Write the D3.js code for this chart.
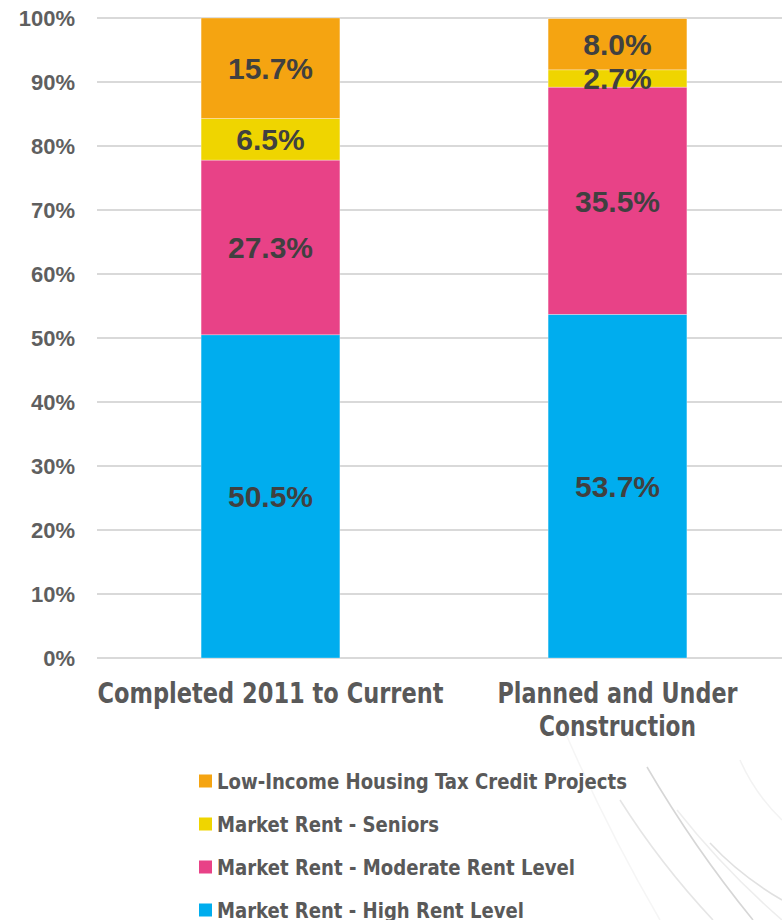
<!DOCTYPE html>
<html>
<head>
<meta charset="utf-8">
<script src="https://cdn.jsdelivr.net/npm/d3@7"></script>
<style>
  body { margin: 0; background: #fff; }
  svg { display: block; }
</style>
</head>
<body>
<div id="chart"></div>
<script>
// data
const categories = ['Completed 2011 to Current', 'Planned and Under Construction'];
const categoryLines = [['Completed 2011 to Current'], ['Planned and Under', 'Construction']];
const seriesNames = ['Market Rent - High Rent Level', 'Market Rent - Moderate Rent Level', 'Market Rent - Seniors', 'Low-Income Housing Tax Credit Projects'];
const highRent = [50.5, 53.7];
const moderateRent = [27.3, 35.5];
const seniors = [6.5, 2.7];
const lihtc = [15.7, 8.0];
const yTicks = [0, 10, 20, 30, 40, 50, 60, 70, 80, 90, 100];
const colors = ['#00ADEE', '#E84287', '#EFD500', '#F5A411'];

const width = 782, height = 920;
const margin = { top: 18, right: -9, bottom: 262, left: 97 };
const plotW = width - margin.left - margin.right;
const plotH = height - margin.top - margin.bottom;

const svg = d3.select('#chart').append('svg')
    .attr('width', width)
    .attr('height', height);

// faint background texture lines, bottom right
const deco = svg.append('g').attr('fill', 'none').attr('stroke', '#000');
[[647, 767, 753, 920, 0.16], [620, 800, 713, 920, 0.10], [677, 810, 782, 920, 0.07],
 [710, 843, 782, 900, 0.12], [560, 720, 660, 920, 0.04], [740, 760, 782, 820, 0.05]]
    .forEach(l => deco.append('path')
        .attr('d', `M${l[0]},${l[1]} Q${(l[0] + l[2]) / 2 - 6},${(l[1] + l[3]) / 2 + 4} ${l[2]},${l[3]}`)
        .attr('stroke-opacity', l[4])
        .attr('stroke-width', 1.6));

const g = svg.append('g').attr('transform', `translate(${margin.left},${margin.top})`);

const x = d3.scaleBand().domain(categories).range([0, plotW]).paddingInner(0.6).paddingOuter(0.3);
const y = d3.scaleLinear().domain([0, 100]).range([plotH, 0]);

// gridlines
g.append('g').selectAll('line')
    .data(yTicks)
    .join('line')
    .attr('x1', 0)
    .attr('x2', plotW)
    .attr('y1', d => y(d))
    .attr('y2', d => y(d))
    .attr('stroke', '#D9D9D9')
    .attr('stroke-width', 2);

// y axis labels
g.append('g').selectAll('text')
    .data(yTicks)
    .join('text')
    .attr('x', -22)
    .attr('y', d => y(d))
    .attr('dy', '0.36em')
    .attr('text-anchor', 'end')
    .style('font-family', '"Liberation Sans", Arial, sans-serif')
    .style('font-size', '22px')
    .style('font-weight', 'bold')
    .attr('fill', '#5F5F5F')
    .text(d => d + '%');

// stacked bars
const rows = categories.map((c, i) => ({
    cat: c,
    s0: highRent[i], s1: moderateRent[i], s2: seniors[i], s3: lihtc[i]
}));
const stack = d3.stack().keys(['s0', 's1', 's2', 's3']);
const layers = stack(rows);

const layerG = g.selectAll('.layer')
    .data(layers)
    .join('g')
    .attr('class', 'layer')
    .attr('fill', (d, i) => colors[i]);

layerG.selectAll('rect')
    .data(d => d)
    .join('rect')
    .attr('x', d => x(d.data.cat))
    .attr('width', x.bandwidth())
    .attr('y', d => y(d[1]))
    .attr('height', d => y(d[0]) - y(d[1]))
    .attr('stroke', '#fff')
    .attr('stroke-opacity', 0.5)
    .attr('stroke-width', 0.6);

// value labels
layers.forEach((layer, li) => {
    g.append('g').selectAll('text')
        .data(layer)
        .join('text')
        .attr('x', d => x(d.data.cat) + x.bandwidth() / 2)
        .attr('y', d => y((d[0] + d[1]) / 2))
        .attr('dy', '0.36em')
        .attr('text-anchor', 'middle')
        .style('font-family', '"Liberation Sans", Arial, sans-serif')
        .style('font-size', '30px')
        .style('font-weight', 'bold')
        .attr('fill', '#404040')
        .text(d => (d[1] - d[0]).toFixed(1) + '%');
});

// category labels
const condensed = '"Liberation Sans Narrow", "Arial Narrow", "DejaVu Sans Condensed", sans-serif';
const catWidths = [[346], [240, 157]];
categories.forEach((c, i) => {
    categoryLines[i].forEach((line, j) => {
        g.append('text')
            .attr('x', x(c) + x.bandwidth() / 2)
            .attr('y', plotH + 45 + j * 33)
            .attr('text-anchor', 'middle')
            .style('font-family', condensed)
            .style('font-size', '28px')
            .style('font-weight', 'bold')
            .attr('fill', '#595959')
            .attr('textLength', catWidths[i][j])
            .attr('lengthAdjust', 'spacingAndGlyphs')
            .text(line);
    });
});

// legend (top entry = last series)
const legendWidths = [410, 222, 358, 307];
const legend = svg.append('g').attr('transform', 'translate(199,781)');
const legendOrder = [3, 2, 1, 0];
legendOrder.forEach((si, k) => {
    const row = legend.append('g').attr('transform', `translate(0,${k * 43})`);
    row.append('rect')
        .attr('x', 0)
        .attr('y', -6.5)
        .attr('width', 13)
        .attr('height', 13)
        .attr('fill', colors[si]);
    row.append('text')
        .attr('x', 18)
        .attr('y', 0)
        .attr('dy', '0.36em')
        .style('font-family', condensed)
        .style('font-size', '22px')
        .style('font-weight', 'bold')
        .attr('fill', '#595959')
        .attr('textLength', legendWidths[k])
        .attr('lengthAdjust', 'spacingAndGlyphs')
        .text(seriesNames[si]);
});
</script>
</body>
</html>
